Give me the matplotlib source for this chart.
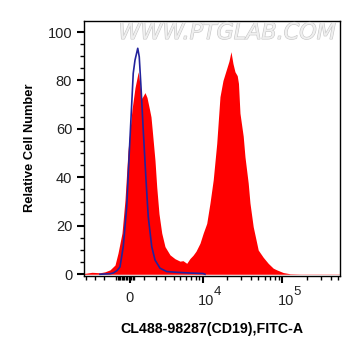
import numpy as np
import matplotlib
matplotlib.use("Agg")
import matplotlib.pyplot as plt
import matplotlib.patheffects as pe

plt.rcParams["font.family"] = ["Liberation Sans", "DejaVu Sans"]

# display channel (0..1024 across the plotted range) vs relative cell count
red_ch = [0, 32, 64, 84, 104, 124, 136, 152, 164, 176, 192, 204, 217, 231, 244,
          252, 261, 268, 273, 284, 291, 300, 311, 324, 344, 364, 384, 396, 411,
          424, 436, 448, 464, 477, 491, 504, 517, 531, 544, 556, 571, 580, 588,
          596, 604, 613, 618, 624, 637, 644, 657, 664, 677, 691, 697, 717, 737,
          757, 771, 797, 824, 864, 1024]
red_cnt = [0.3, 0.8, 0.6, 1.0, 1.8, 3.8, 8.7, 17, 30.7, 51, 68, 77, 83.6, 72.6, 75,
           73, 68.6, 65, 59.5, 47, 36, 25, 17, 11.4, 8, 6.4, 5.4, 5.6, 4.5,
           6.5, 7.8, 9.5, 12.8, 17, 21, 29.4, 39, 54, 73.3, 80, 85, 88, 91.9,
           87, 83.6, 82, 78.8, 66.5, 57, 48.5, 37.6, 29.4, 19.6, 12.9, 10, 7, 4.5,
           2.5, 1.8, 0.7, 0.2, 0.1, 0.1]

blue_ch = [64, 104, 117, 132, 144, 157, 171, 181, 191, 197, 204, 215, 221, 228,
           237, 248, 257, 271, 284, 304, 331, 371, 424, 476, 484]
blue_cnt = [0, 0.2, 0.5, 1.5, 3, 11.4, 28, 50, 70.6, 83, 88.4, 93.3, 89.8, 77.4,
            59.6, 39, 23.8, 11.4, 5.9, 2.5, 1.1, 0.8, 0.5, 0.3, 0]

major_vals = [0, 1e4, 1e5]
decade_exps = ["", "4", "5"]
minor_vals = ([-4000, -3000, -2000, -1000] + list(range(-900, 0, 100))
              + list(range(100, 400, 100)) + list(range(1000, 10000, 1000))
              + list(range(20000, 100000, 10000)) + [2e5, 3e5, 4e5, 5e5])


def to_channel(v):
    # asinh-style display transform: "0" at ch 184, 320 channels per decade
    return 184 + 138.96 * np.arcsinh(np.asarray(v, dtype=float) / 2481.0)


RED = "#ff0000"
BLUE = "#22229c"
LBL = "#222222"

fig = plt.figure(figsize=(3.61, 3.56), dpi=100)
ax = fig.add_axes([0.2327, 0.2256, 0.709, 0.7163])

ax.fill_between(red_ch, red_cnt, 0, color=RED, lw=0)
ax.plot(blue_ch, blue_cnt, color=BLUE, lw=1.2)

ax.set_xlim(0, 1024)
ax.set_ylim(-0.6, 104.7)

ax.set_yticks([0, 20, 40, 60, 80, 100])
ax.set_yticks(np.arange(0, 105, 5), minor=True)
ax.set_xticks(to_channel(major_vals))
ax.set_xticklabels([])
ax.set_xticks(to_channel(minor_vals), minor=True)

ax.tick_params(axis="both", which="major", direction="out", length=5, width=1.5,
               labelsize=10.5, colors="black", labelcolor=LBL)
ax.tick_params(axis="both", which="minor", direction="out", length=3, width=1)
for s in ax.spines.values():
    s.set_linewidth(1)

# decade labels drawn as "10" + raised exponent, like the cytometer software
for v, e in zip(major_vals, decade_exps):
    xc = float(to_channel(v))
    if e == "":
        ax.annotate("0", (xc, 0), xycoords=("data", "axes fraction"),
                    xytext=(0, -16), textcoords="offset points", ha="center",
                    va="center", fontsize=10.5, color=LBL)
    else:
        ax.annotate("10", (xc, 0), xycoords=("data", "axes fraction"),
                    xytext=(2.5, -18), textcoords="offset points", ha="center",
                    va="center", fontsize=10.5, color=LBL)
        ax.annotate(e, (xc, 0), xycoords=("data", "axes fraction"),
                    xytext=(10.5, -12), textcoords="offset points", ha="center",
                    va="center", fontsize=9.5, color=LBL)

ax.set_ylabel("Relative Cell Number", fontsize=9.3, fontweight="bold", labelpad=8)
ax.set_xlabel("CL488-98287(CD19),FITC-A", fontsize=10.2, fontweight="bold", labelpad=25)

wm = ax.text(0.56, 0.952, "WWW.PTGLAB.COM", transform=ax.transAxes, ha="center",
             va="center", fontsize=16, style="italic", color="#efefef",
             family="DejaVu Sans")
wm.set_path_effects([pe.Stroke(linewidth=0.8, foreground="#c4c4c4"), pe.Normal()])

fig.savefig("out.png", dpi=100)
